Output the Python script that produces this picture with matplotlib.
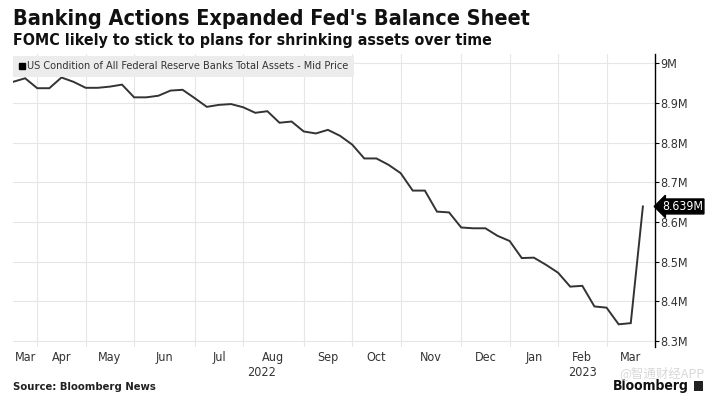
# Fed balance sheet, weekly total assets
import matplotlib
matplotlib.use("Agg")
import matplotlib.pyplot as plt
from matplotlib.lines import Line2D
from matplotlib.patches import Rectangle
from matplotlib import transforms

plt.rcParams['font.family'] = ['DejaVu Sans']
plt.rcParams['font.stretch'] = 'condensed'

# weekly values (shown as "M" on the axis), Mar 2022 - Mar 2023
assets = [8.953, 8.962, 8.937, 8.937, 8.964, 8.953, 8.938, 8.938, 8.941, 8.946,
          8.914, 8.914, 8.918, 8.931, 8.933, 8.912, 8.890, 8.895, 8.897, 8.889,
          8.875, 8.879, 8.850, 8.853, 8.828, 8.823, 8.832, 8.817, 8.795, 8.760,
          8.760, 8.744, 8.723, 8.679, 8.679, 8.626, 8.624, 8.586, 8.584, 8.584,
          8.565, 8.552, 8.509, 8.510, 8.492, 8.472, 8.437, 8.439, 8.387, 8.384,
          8.342, 8.345, 8.639]
last_label = "8.639M"

# week index where each month ends (gridlines)
month_bounds = [2, 6, 10, 15, 19, 24, 28, 32, 37, 41, 45, 49]
months = ["Mar", "Apr", "May", "Jun", "Jul", "Aug", "Sep", "Oct", "Nov", "Dec",
          "Jan", "Feb", "Mar"]
years = ["2022", "2023"]
year_bounds = [0, 41, 53]

yticks = [8.3, 8.4, 8.5, 8.6, 8.7, 8.8, 8.9, 9.0]
yticklabels = ["8.3M", "8.4M", "8.5M", "8.6M", "8.7M", "8.8M", "8.9M", "9M"]

legend_text = "US Condition of All Federal Reserve Banks Total Assets - Mid Price"

fig = plt.figure(figsize=(7.11, 3.96), dpi=100)
ax = fig.add_axes([13/711, 1-346.7/396, (655-13)/711, (346.7-54)/396])

x = list(range(len(assets)))
ax.plot(x, assets, color='#333333', lw=1.4, solid_joinstyle='miter')

ax.set_xlim(0, 53)
ax.set_ylim(8.2856, 9.0232)

edges = [0] + month_bounds + [53]
mids = [(edges[i] + edges[i+1]) / 2 for i in range(len(months))]
ax.set_xticks(month_bounds)
ax.set_xticklabels([])
ax.set_xticks(mids, minor=True)
ax.set_xticklabels(months, minor=True)
ax.tick_params(axis='x', which='both', length=0, labelsize=9,
               labelcolor='#333333', pad=3)

ax.yaxis.tick_right()
ax.set_yticks(yticks)
ax.set_yticklabels(yticklabels)
ax.tick_params(axis='y', length=3, width=0.8, color='black', labelsize=9,
               labelcolor='#333333', pad=1)

ax.grid(True, which='major', color='#e6e6e6', lw=0.8)
ax.set_axisbelow(True)
for s in ['top', 'left', 'bottom']:
    ax.spines[s].set_visible(False)
ax.spines['right'].set_color('black')
ax.spines['right'].set_linewidth(1)

# year labels
trans = transforms.blended_transform_factory(ax.transData, ax.transAxes)
for i, yr in enumerate(years):
    ax.text((year_bounds[i] + year_bounds[i+1]) / 2, -0.067, yr, transform=trans,
            ha='center', va='top', fontsize=9, color='#333333')

# legend box
handle = Line2D([], [], marker='s', color='black', ls='none', markersize=5)
leg = ax.legend([handle], [legend_text], loc='upper left',
                bbox_to_anchor=(0, 0.993), fontsize=7.8, frameon=True,
                fancybox=False, handlelength=0.6, handletextpad=0.2,
                borderpad=0.5, borderaxespad=0)
leg.get_frame().set_facecolor('#ececec')
leg.get_frame().set_edgecolor('none')
leg.get_frame().set_alpha(1)
for t in leg.get_texts():
    t.set_color('#333333')

# last value tag
ax.annotate(last_label, xy=(1.0, assets[-1]), xycoords=('axes fraction', 'data'),
            xytext=(5, 0), textcoords='offset points', va='center', ha='left',
            color='white', fontsize=8.8, annotation_clip=False,
            bbox=dict(boxstyle='larrow,pad=0.08', fc='black', ec='black'))

fig.text(13/711, 1-19/396, "Banking Actions Expanded Fed's Balance Sheet",
         fontsize=15.5, fontweight='bold', va='center', ha='left', color='#111111')
fig.text(13/711, 1-41/396, "FOMC likely to stick to plans for shrinking assets over time",
         fontsize=11.4, fontweight='bold', va='center', ha='left', color='#111111')
fig.text(13/711, 1-387/396, "Source: Bloomberg News", fontstretch='normal',
         fontsize=7.3, fontweight='bold', va='center', ha='left', color='#222222')
fig.text(689/711, 1-386/396, "Bloomberg",
         fontsize=10, fontweight='bold', va='center', ha='right', color='#111111')
fig.patches.append(Rectangle((694/711, 1-391/396), 9/711, 10/396,
                             transform=fig.transFigure, fc='#222222', ec='none'))
fig.text(705/711, 1-373/396, "@智通财经APP", family=['Noto Sans CJK SC', 'DejaVu Sans'],
         fontsize=9, va='center', ha='right', color='#d8d8d8')

fig.savefig("out.png", dpi=100)
